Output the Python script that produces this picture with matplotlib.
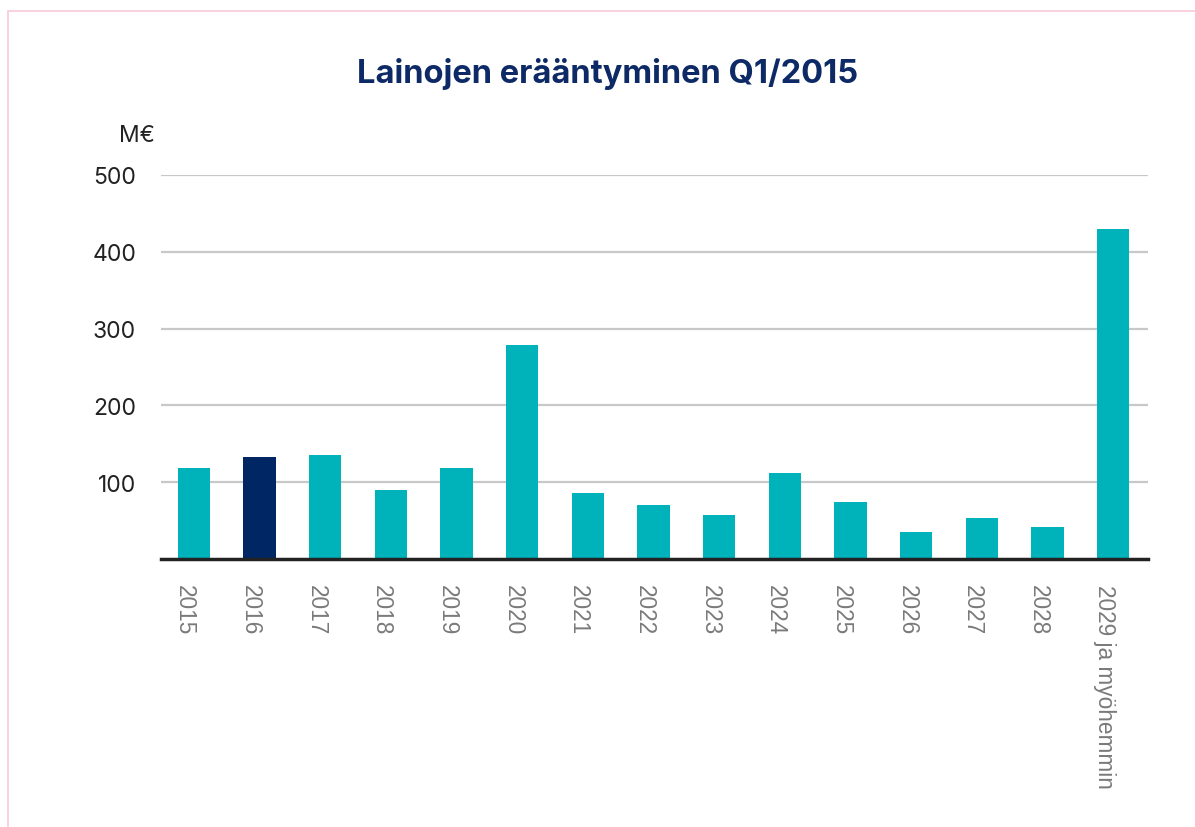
import matplotlib
matplotlib.use("Agg")
import matplotlib.pyplot as plt
from matplotlib.patches import Rectangle
import matplotlib.transforms as mtransforms

categories = ["2015", "2016", "2017", "2018", "2019", "2020", "2021", "2022",
              "2023", "2024", "2025", "2026", "2027", "2028", "2029 ja myöhemmin"]
values = [119, 133, 136, 90, 119, 278, 86, 70, 57, 112, 74, 35, 54, 42, 430]
highlight = "2016"
yticks = [100, 200, 300, 400, 500]

teal = "#00b3bb"
navy = "#002663"

W, H = 1195, 828
fig = plt.figure(figsize=(W / 100, H / 100), dpi=100)
fig.patch.set_facecolor("white")

# pink frame
fig.patches.append(Rectangle((8 / W, -0.1), 1.2, 1 - 12 / H + 0.1, transform=fig.transFigure,
                             fill=False, edgecolor="#f9c9d9", linewidth=1.2))

ax = fig.add_axes([161 / W, 1 - 560 / H, (1148 - 161) / W, (560 - 176) / H])
x = list(range(len(categories)))
colors = [navy if c == highlight else teal for c in categories]
ax.bar(x, values, width=0.49, color=colors, zorder=3)

ax.set_xlim(-0.5, 14.53)
ax.set_ylim(0, 500)
ax.set_yticks(yticks)
ax.set_yticklabels([str(v) for v in yticks], fontsize=16.5, color="#222222", family="Inter")
ax.yaxis.grid(True, color="#c8c8c8", linewidth=1.6, zorder=0)
ax.axhline(0, color="#222222", linewidth=2.5, zorder=4, clip_on=False)
for s in ax.spines.values():
    s.set_visible(False)
ax.tick_params(axis="y", length=0, pad=18)
ax.tick_params(axis="x", length=0, pad=18)
ax.set_xticks(x)
ax.set_xticklabels(categories, rotation=-90, fontsize=16.3, color="#7a7a7a",
                   family="Liberation Sans", ha="center", va="top")
offset = mtransforms.ScaledTranslation(-9 / 100, 0, fig.dpi_scale_trans)
for lbl in ax.get_xticklabels():
    lbl.set_transform(lbl.get_transform() + offset)

fig.text(137 / W, 1 - 136 / H, "M€", fontsize=16.5, color="#222222", family="Inter",
         ha="center", va="center")
fig.text(608 / W, 1 - 74 / H, "Lainojen erääntyminen Q1/2015", fontsize=23.5, fontweight="bold",
         color="#0d2a66", family="Inter", ha="center", va="center")

fig.savefig("out.png", dpi=100, facecolor="white")
